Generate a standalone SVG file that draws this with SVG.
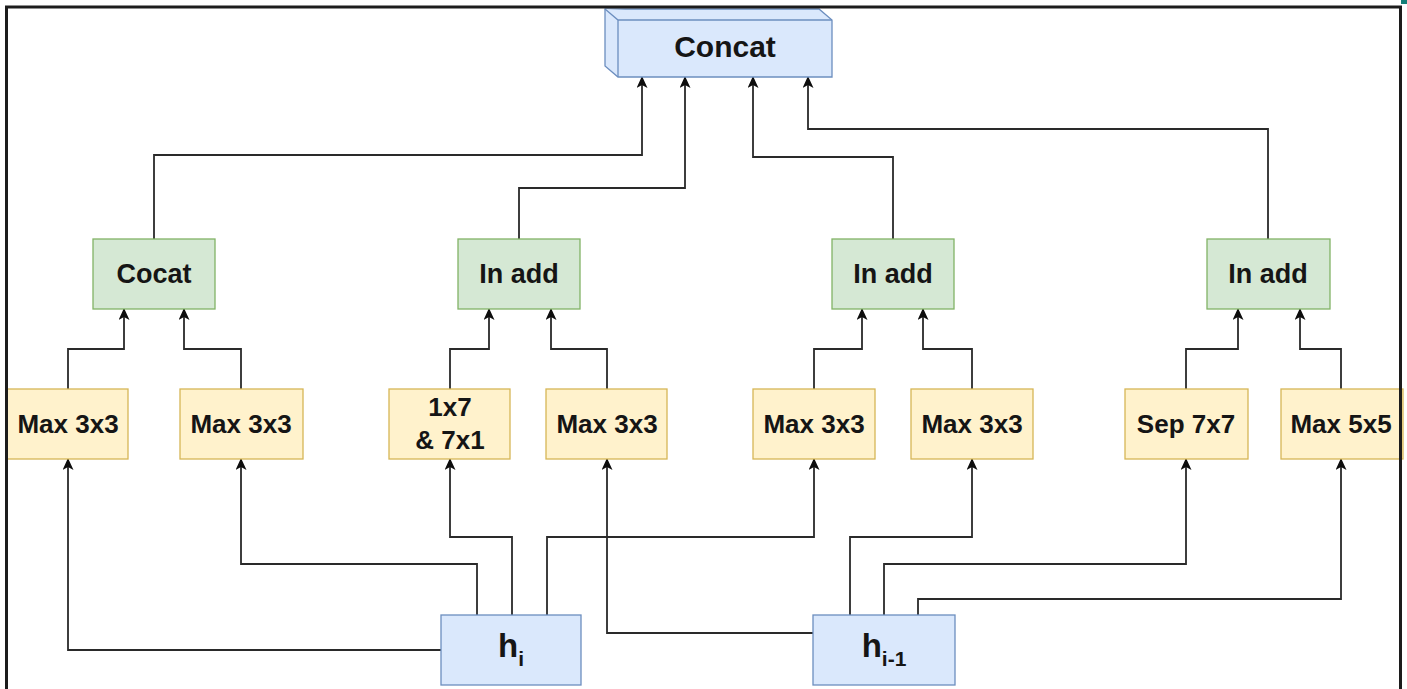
<svg xmlns="http://www.w3.org/2000/svg" width="1407" height="689" viewBox="0 0 1407 689">
  <style>
    .lbl { font-family: "Liberation Sans", Arial, sans-serif; font-weight: bold; fill: #151515; text-anchor: middle; }
    .op { fill: #fff2cc; stroke: #d6b656; stroke-width: 1.3; }
    .merge { fill: #d5e8d4; stroke: #82b366; stroke-width: 1.3; }
    .state { fill: #dae8fc; stroke: #6c8ebf; stroke-width: 1.3; }
    .wire { fill: none; stroke: #2a2a2a; stroke-width: 1.8; marker-end: url(#arrow); }
  </style>
  <defs>
    <marker id="arrow" viewBox="0 0 12 11" refX="11" refY="5.5" markerWidth="12" markerHeight="11" markerUnits="userSpaceOnUse" orient="auto">
      <path d="M0,0 L12,5.5 L0,11 L3,5.5 z" fill="#0d0d0d"/>
    </marker>
  </defs>

  <rect x="0" y="0" width="1407" height="689" fill="#ffffff"/>

  <!-- connectors -->
  <g id="connectors">
    <!-- cell outputs into Concat -->
    <path class="wire" d="M154 239 V155 H642 V77"/>
    <path class="wire" d="M519 239 V188 H685 V77"/>
    <path class="wire" d="M893 239 V157 H753 V77"/>
    <path class="wire" d="M1268 239 V129 H808 V77"/>
    <!-- operations into combiners -->
    <path class="wire" d="M68 389 V349 H124 V309"/>
    <path class="wire" d="M241 389 V349 H184 V309"/>
    <path class="wire" d="M450 389 V349 H489 V309"/>
    <path class="wire" d="M607 389 V349 H551 V309"/>
    <path class="wire" d="M814 389 V349 H862 V309"/>
    <path class="wire" d="M972 389 V349 H923 V309"/>
    <path class="wire" d="M1186 389 V349 H1238 V309"/>
    <path class="wire" d="M1341 389 V349 H1300 V309"/>
    <!-- h_i fan-out -->
    <path class="wire" d="M441 650 H68 V459"/>
    <path class="wire" d="M477 615 V564 H241 V459"/>
    <path class="wire" d="M512 615 V537 H450 V459"/>
    <path class="wire" d="M547 615 V537 H814 V459"/>
    <!-- h_i-1 fan-out -->
    <path class="wire" d="M813 633 H607 V459"/>
    <path class="wire" d="M850 615 V537 H972 V459"/>
    <path class="wire" d="M884 615 V564 H1186 V459"/>
    <path class="wire" d="M918 615 V599 H1341 V459"/>
  </g>

  <!-- output concat (cube) -->
  <g id="concat">
    <path class="state" d="M605 9 H819 L832 20 V77 H618 L605 66 Z"/>
    <path class="state" d="M605 9 L618 20 H832 M618 20 V77" fill="none"/>
    <text class="lbl" x="725" y="57" font-size="30">Concat</text>
  </g>

  <!-- combiners -->
  <g id="cocat">
    <rect class="merge" x="93" y="239" width="122" height="70"/>
    <text class="lbl" x="154" y="283" font-size="27">Cocat</text>
  </g>
  <g id="add1">
    <rect class="merge" x="458" y="239" width="122" height="70"/>
    <text class="lbl" x="519" y="283" font-size="27">In add</text>
  </g>
  <g id="add2">
    <rect class="merge" x="832" y="239" width="122" height="70"/>
    <text class="lbl" x="893" y="283" font-size="27">In add</text>
  </g>
  <g id="add3">
    <rect class="merge" x="1207" y="239" width="123" height="70"/>
    <text class="lbl" x="1268" y="283" font-size="27">In add</text>
  </g>

  <!-- operations -->
  <g id="op1">
    <rect class="op" x="7" y="389" width="121" height="70"/>
    <text class="lbl" x="68" y="433" font-size="26">Max 3x3</text>
  </g>
  <g id="op2">
    <rect class="op" x="180" y="389" width="123" height="70"/>
    <text class="lbl" x="241" y="433" font-size="26">Max 3x3</text>
  </g>
  <g id="op3">
    <rect class="op" x="389" y="389" width="121" height="70"/>
    <text class="lbl" x="450" y="416" font-size="26">1x7</text>
    <text class="lbl" x="450" y="449" font-size="26">&amp; 7x1</text>
  </g>
  <g id="op4">
    <rect class="op" x="546" y="389" width="121" height="70"/>
    <text class="lbl" x="607" y="433" font-size="26">Max 3x3</text>
  </g>
  <g id="op5">
    <rect class="op" x="753" y="389" width="122" height="70"/>
    <text class="lbl" x="814" y="433" font-size="26">Max 3x3</text>
  </g>
  <g id="op6">
    <rect class="op" x="911" y="389" width="122" height="70"/>
    <text class="lbl" x="972" y="433" font-size="26">Max 3x3</text>
  </g>
  <g id="op7">
    <rect class="op" x="1125" y="389" width="123" height="70"/>
    <text class="lbl" x="1186" y="433" font-size="26">Sep 7x7</text>
  </g>
  <g id="op8">
    <rect class="op" x="1281" y="389" width="122" height="70"/>
    <text class="lbl" x="1341" y="433" font-size="26">Max 5x5</text>
  </g>

  <!-- inputs -->
  <g id="hi">
    <rect class="state" x="441" y="615" width="140" height="70"/>
    <text class="lbl" x="511" y="657" font-size="33">h<tspan font-size="21" dy="9">i</tspan></text>
  </g>
  <g id="hi1">
    <rect class="state" x="813" y="615" width="142" height="70"/>
    <text class="lbl" x="884" y="657" font-size="33">h<tspan font-size="21" dy="9">i-1</tspan></text>
  </g>

  <!-- frame -->
  <rect x="6.5" y="7" width="1394" height="700" fill="none" stroke="#1c1c1c" stroke-width="3"/>
  <rect x="1401" y="0" width="6" height="4" fill="#137e78"/>
</svg>
